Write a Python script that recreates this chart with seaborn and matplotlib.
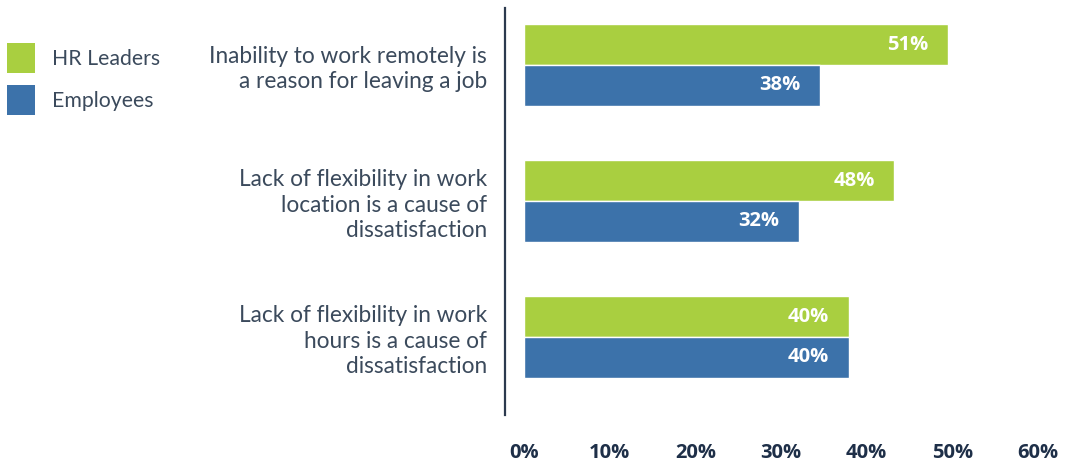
import matplotlib
matplotlib.use("Agg")
import matplotlib.pyplot as plt
import seaborn as sns
import pandas as pd
from matplotlib.patches import Patch

categories = [
    "Inability to work remotely is\na reason for leaving a job",
    "Lack of flexibility in work\nlocation is a cause of\ndissatisfaction",
    "Lack of flexibility in work\nhours is a cause of\ndissatisfaction",
]
series_names = ["HR Leaders", "Employees"]
# bar lengths as drawn in the picture (percent)
hr_values = [49.5, 43.2, 37.9]
emp_values = [34.5, 32.1, 37.9]
# printed value labels
hr_labels = ["51%", "48%", "40%"]
emp_labels = ["38%", "32%", "40%"]
tick_values = [0, 10, 20, 30, 40, 50, 60]
tick_labels = ["0%", "10%", "20%", "30%", "40%", "50%", "60%"]

colors = ["#a9cf40", "#3c72aa"]
text_color = "#3b4a5c"
tick_color = "#1e2f48"

sns.set_style("white")
plt.rcParams["font.family"] = ["Lato", "DejaVu Sans"]

df = pd.DataFrame({
    "category": categories * 2,
    "series": [series_names[0]] * 3 + [series_names[1]] * 3,
    "value": hr_values + emp_values,
    "label": hr_labels + emp_labels,
})

fig = plt.figure(figsize=(10.74, 4.63), dpi=100)
ax = fig.add_axes([505 / 1074, 1 - 415 / 463, 1 - 505 / 1074, 407 / 463])

sns.barplot(data=df, y="category", x="value", hue="series", orient="h",
            palette=colors, width=0.6, ax=ax, legend=False, saturation=1)

# value labels inside the bars
for container, labs in zip(ax.containers, [hr_labels, emp_labels]):
    ax.bar_label(container, labels=labs, padding=-14, color="white",
                 fontsize=14.5, fontweight="bold", family=["Open Sans", "DejaVu Sans"],
                 label_type="edge")
    for t in ax.texts[-len(labs):]:
        t.set_horizontalalignment("right")

ax.set_xlim(-2.22, 64.2)
ax.set_ylim(2.574, -0.42)
ax.set_xticks(tick_values)
ax.set_xticklabels(tick_labels, fontsize=14.5, fontweight="bold", color=tick_color,
                   family=["Open Sans", "DejaVu Sans"])
ax.tick_params(axis="x", length=0, pad=20)
ax.tick_params(axis="y", length=0, pad=13)
for lab in ax.get_yticklabels():
    lab.set_fontsize(16.3)
    lab.set_color(text_color)
    lab.set_linespacing(1.25)
    lab.set_horizontalalignment("right")
ax.set_xlabel("")
ax.set_ylabel("")
for s in ["top", "right", "bottom"]:
    ax.spines[s].set_visible(False)
ax.spines["left"].set_color("#2c3a4e")
ax.spines["left"].set_linewidth(1.6)

handles = [Patch(facecolor=c, edgecolor="none") for c in colors]
leg = fig.legend(handles, series_names, loc="upper left", bbox_to_anchor=(0.003, 0.916),
                 frameon=False, fontsize=15.3, handlelength=1.3, handleheight=1.8,
                 labelspacing=0.56, handletextpad=0.8, borderaxespad=0.0, borderpad=0.2)
for t in leg.get_texts():
    t.set_color(text_color)

fig.savefig("out.png", dpi=100)
